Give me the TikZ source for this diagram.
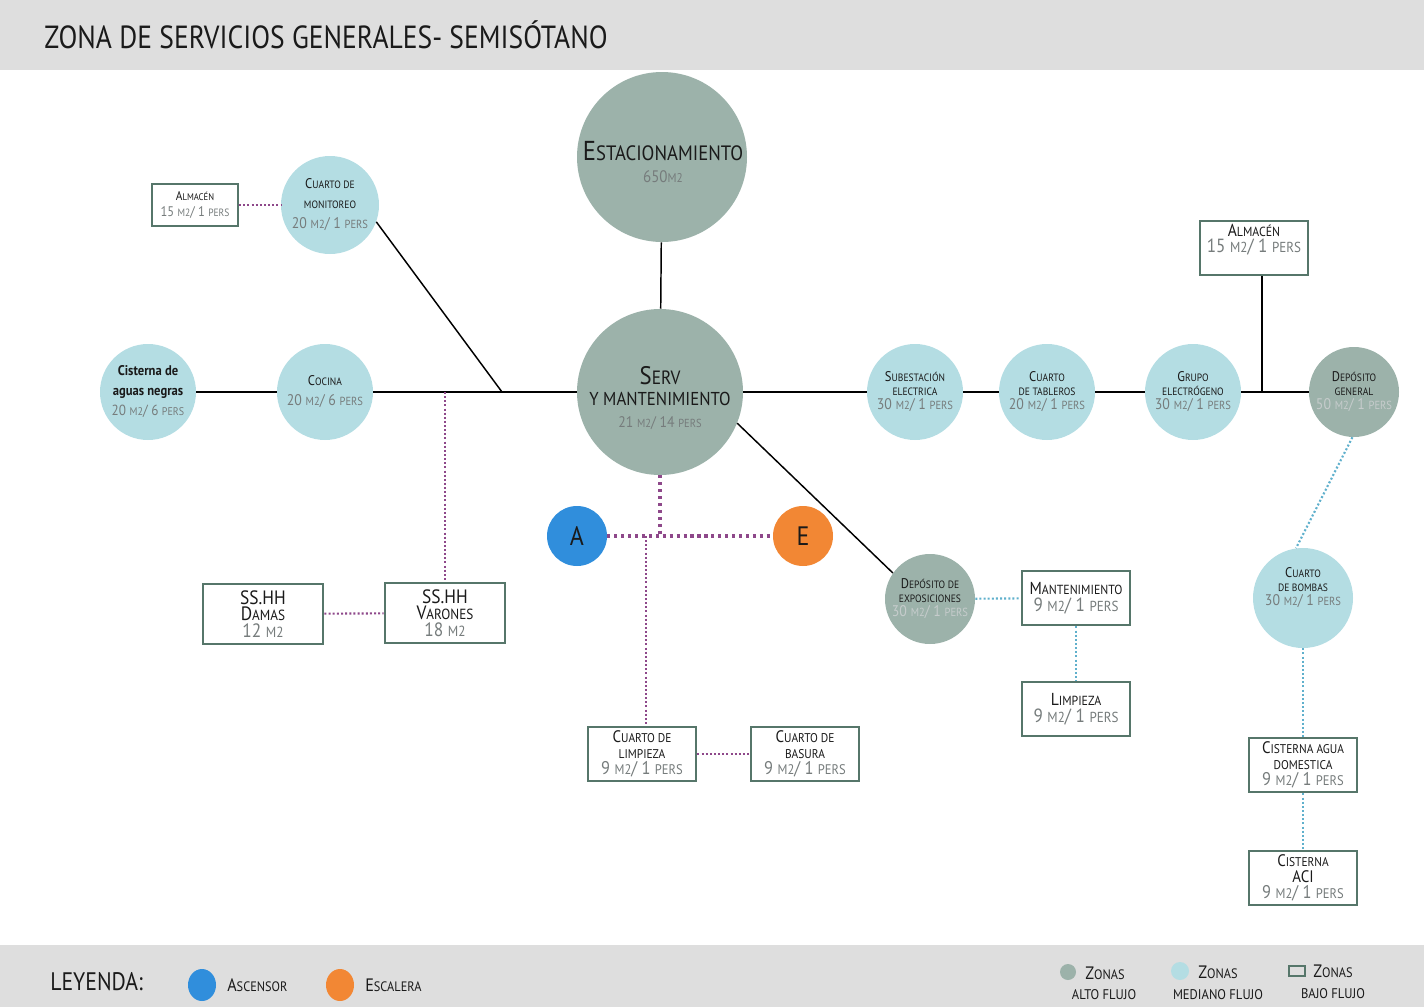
\documentclass[tikz,border=0pt]{standalone}
\usepackage{fontspec}
\setmainfont{PT Sans}[FakeStretch=0.9]
\newfontfamily\ttlfont{PT Sans}[FakeStretch=0.86]
\usetikzlibrary{shapes.geometric}

\definecolor{altocol}{RGB}{156,178,170}
\definecolor{mediocol}{RGB}{180,221,227}
\definecolor{borde}{RGB}{86,118,106}
\definecolor{subgray}{RGB}{118,124,124}
\definecolor{sublight}{RGB}{198,204,204}
\definecolor{purp}{RGB}{142,72,138}
\definecolor{aguacol}{RGB}{96,176,204}
\definecolor{banda}{RGB}{222,222,222}
\definecolor{ascol}{RGB}{48,142,220}
\definecolor{escol}{RGB}{242,135,52}
\definecolor{tinta}{RGB}{26,26,26}

\makeatletter
\newcommand\sk[1]{{\fontsize{\fpeval{0.76*\f@size}}{\f@baselineskip}\selectfont #1}}
\newcommand\gris[1]{{\color{subgray}\fontsize{\fpeval{1.1*\f@size}}{\f@baselineskip}\selectfont #1}}
\newcommand\clara[1]{{\color{sublight}\fontsize{\fpeval{1.1*\f@size}}{\f@baselineskip}\selectfont #1}}
\makeatother

\begin{document}
\begin{tikzpicture}[x=0.75pt,y=0.75pt,yscale=-1,xscale=1,text=tinta,
  medio/.style={circle,fill=mediocol,inner sep=0pt,align=center,minimum size=72pt,font=\fontsize{10.5}{10.5}\selectfont},
  alto/.style={circle,fill=altocol,inner sep=0pt,align=center,minimum size=67.5pt,font=\fontsize{10.5}{10.5}\selectfont},
  zona/.style={rectangle,draw=borde,line width=2.2pt,fill=white,inner sep=0pt,align=center,minimum width=81pt,minimum height=40.5pt,font=\fontsize{13}{12.5}\selectfont},
  zona3/.style={zona,font=\fontsize{12.5}{12}\selectfont},
  lin/.style={line width=1.1pt},
  flujo/.style={draw=purp,line width=1.6pt,dash pattern=on 1.5pt off 1.6pt},
  aeflujo/.style={draw=purp,line width=2.4pt,dash pattern=on 2.4pt off 2.8pt},
  agua/.style={draw=aguacol,line width=1.6pt,dash pattern=on 1.5pt off 1.6pt},
  legtxt/.style={anchor=west,inner sep=0pt,font=\fontsize{13.5}{13.5}\selectfont}
]
\useasboundingbox (0,0) rectangle (1424,1007);

%Shape: Rectangle (bands)
\fill [banda] (0,0) rectangle (1424,70);
\fill [banda] (0,945) rectangle (1424,1007);

% Text Node
\node [anchor=west,inner sep=0pt,font=\ttlfont\fontsize{24}{24}\selectfont] (titulo) at (44,35) {ZONA DE SERVICIOS GENERALES- SEMISÓTANO};

%Shape: Circle (zonas alto flujo)
\node [alto,minimum size=127.5pt] (estac) at (662,157) {};
\node [alto,minimum size=124.5pt] (serv) at (660,392) {};
\node [alto] (depgen) at (1354,392) {D\sk{EPÓSITO}\\\sk{GENERAL}\\\clara{50 \sk{M2}/ 1 \sk{PERS}}};
\node [alto] (depexp) at (930,599) {D\sk{EPÓSITO DE}\\\sk{EXPOSICIONES}\\\clara{30 \sk{M2}/ 1 \sk{PERS}}};

% Text Node
\node [align=center,inner sep=0pt,font=\fontsize{20.5}{17}\selectfont] (estactxt) at (663,162) {E\sk{STACIONAMIENTO}\\{\color{subgray}\fontsize{12.5}{10}\selectfont 650\sk{M2}}};
\node [align=center,inner sep=0pt,font=\fontsize{14}{16}\selectfont] (servtxt) at (660,398) {{\fontsize{19}{16}\selectfont S\sk{ERV}}\\Y MANTENIMIENTO\\{\color{subgray}\fontsize{11.5}{16}\selectfont 21 \sk{M2}/ 14 \sk{PERS}}};

%Shape: Circle (zonas mediano flujo)
\node [medio,minimum size=73.5pt,font=\fontsize{10.5}{15}\selectfont] (monit) at (330,205) {C\sk{UARTO DE}\\\sk{MONITOREO}\\\gris{20 \sk{M2}/ 1 \sk{PERS}}};
\node [medio,font=\fontsize{10.5}{15}\selectfont] (cocina) at (325,392) {C\sk{OCINA}\\\gris{20 \sk{M2}/ 6 \sk{PERS}}};
\node [medio,font=\bfseries\fontsize{10.5}{15}\selectfont] (cist) at (148,392) {Cisterna de\\aguas negras\\{\color{subgray}\mdseries\fontsize{11}{15}\selectfont 20 \sk{M2}/ 6 \sk{PERS}}};
\node [medio] (subest) at (915,392) {S\sk{UBESTACIÓN}\\\sk{ELECTRICA}\\\gris{30 \sk{M2}/ 1 \sk{PERS}}};
\node [medio] (tabl) at (1047,392) {C\sk{UARTO}\\\sk{DE TABLEROS}\\\gris{20 \sk{M2}/ 1 \sk{PERS}}};
\node [medio] (grupo) at (1193,392) {G\sk{RUPO}\\\sk{ELECTRÓGENO}\\\gris{30 \sk{M2}/ 1 \sk{PERS}}};
\node [medio,minimum size=75pt] (bombas) at (1303,598) {C\sk{UARTO}\\\sk{DE BOMBAS}\\\gris{30 \sk{M2}/ 1 \sk{PERS}}\\[6pt]};

%Shape: Circle (ascensor, escalera)
\node [circle,fill=ascol,minimum size=45pt,inner sep=0pt,font=\fontsize{20}{20}\selectfont] (asc) at (577,536) {A};
\node [circle,fill=escol,minimum size=45pt,inner sep=0pt,font=\fontsize{20}{20}\selectfont] (esc) at (803,536) {E};

%Shape: Rectangle (zonas bajo flujo)
\node [zona,minimum width=64.5pt,minimum height=31.5pt,line width=1.8pt,font=\fontsize{9.5}{12}\selectfont] (alm1) at (195,205) {A\sk{LMACÉN}\\\gris{15 \sk{M2}/ 1 \sk{PERS}}};
\node [zona] (alm2) at (1254,248) {A\sk{LMACÉN}\\\gris{15 \sk{M2}/ 1 \sk{PERS}}\\[2pt]};
\node [zona] (mant) at (1076,598) {M\sk{ANTENIMIENTO}\\\gris{9 \sk{M2}/ 1 \sk{PERS}}};
\node [zona] (limp) at (1076,709) {L\sk{IMPIEZA}\\\gris{9 \sk{M2}/ 1 \sk{PERS}}};
\node [zona3] (cad) at (1303,765) {C\sk{ISTERNA AGUA}\\\sk{DOMESTICA}\\\gris{9 \sk{M2}/ 1 \sk{PERS}}};
\node [zona3] (aci) at (1303,878) {C\sk{ISTERNA}\\ACI\\\gris{9 \sk{M2}/ 1 \sk{PERS}}};
\node [zona,minimum width=90pt,minimum height=45pt,font=\fontsize{14.5}{12.5}\selectfont] (ssd) at (263,614) {SS.HH\\D\sk{AMAS}\\{\color{subgray}12 \sk{M2}}};
\node [zona,minimum width=90pt,minimum height=45pt,font=\fontsize{14.5}{12.5}\selectfont] (ssv) at (445,613) {SS.HH\\V\sk{ARONES}\\{\color{subgray}18 \sk{M2}}};
\node [zona3] (cl) at (642,754) {C\sk{UARTO DE}\\\sk{LIMPIEZA}\\\gris{9 \sk{M2}/ 1 \sk{PERS}}};
\node [zona3] (cb) at (805,754) {C\sk{UARTO DE}\\\sk{BASURA}\\\gris{9 \sk{M2}/ 1 \sk{PERS}}};

% junctions
\coordinate (j1) at (502,392);
\coordinate (j2) at (445,392);
\coordinate (j3) at (660,536);
\coordinate (j4) at (646,536);
\coordinate (j5) at (1262,392);

%Straight Lines
\draw [lin] (estac) -- (serv);
\draw [lin] (cist) -- (cocina) -- (serv) -- (subest) -- (tabl) -- (grupo) -- (depgen);
\draw [lin] (monit.-20) -- (j1);
\draw [lin] (j5) -- (j5 |- alm2.south);
\draw [lin] (serv.-22) -- (depexp.145);

%Straight Lines (dotted)
\draw [flujo] (alm1) -- (monit);
\draw [flujo] (j2) -- (ssv.north);
\draw [flujo] (ssd) -- (ssv);
\draw [aeflujo] (serv.south) -- (j3);
\draw [aeflujo] (asc) -- (esc);
\draw [flujo] (j4) -- (j4 |- cl.north);
\draw [flujo] (cl) -- (cb);
\draw [agua] (depexp) -- (mant);
\draw [agua] (mant) -- (limp);
\draw [agua] (depgen.-92) -- (bombas.98);
\draw [agua] (bombas) -- (cad);
\draw [agua] (cad) -- (aci);

% Legend
\node [anchor=west,inner sep=0pt,font=\ttlfont\fontsize{19}{19}\selectfont] (ley) at (50,982) {LEYENDA:};
\node [ellipse,fill=ascol,minimum width=21pt,minimum height=24pt,inner sep=0pt] (lasc) at (202,985) {};
\node [legtxt] (tasc) at (227,985) {A\sk{SCENSOR}};
\node [ellipse,fill=escol,minimum width=21pt,minimum height=24pt,inner sep=0pt] (lesc) at (340,985) {};
\node [legtxt] (tesc) at (365,985) {E\sk{SCALERA}};
\node [circle,fill=altocol,minimum size=12pt,inner sep=0pt] (lalto) at (1068,972) {};
\node [legtxt] (zalto) at (1085,973) {Z\sk{ONAS}};
\node [inner sep=0pt,font=\fontsize{10.5}{10.5}\selectfont] (falto) at (1104,995) {ALTO FLUJO};
\node [circle,fill=mediocol,minimum size=13.5pt,inner sep=0pt] (lmedio) at (1180,971) {};
\node [legtxt] (zmedio) at (1198,972) {Z\sk{ONAS}};
\node [inner sep=0pt,font=\fontsize{10.5}{10.5}\selectfont] (fmedio) at (1218,995) {MEDIANO FLUJO};
\node [rectangle,draw=borde,line width=1.5pt,minimum width=12pt,minimum height=7.5pt,inner sep=0pt] (lbajo) at (1297,971) {};
\node [legtxt] (zbajo) at (1313,971) {Z\sk{ONAS}};
\node [inner sep=0pt,font=\fontsize{10.5}{10.5}\selectfont] (fbajo) at (1333,994) {BAJO FLUJO};

\end{tikzpicture}
\end{document}
